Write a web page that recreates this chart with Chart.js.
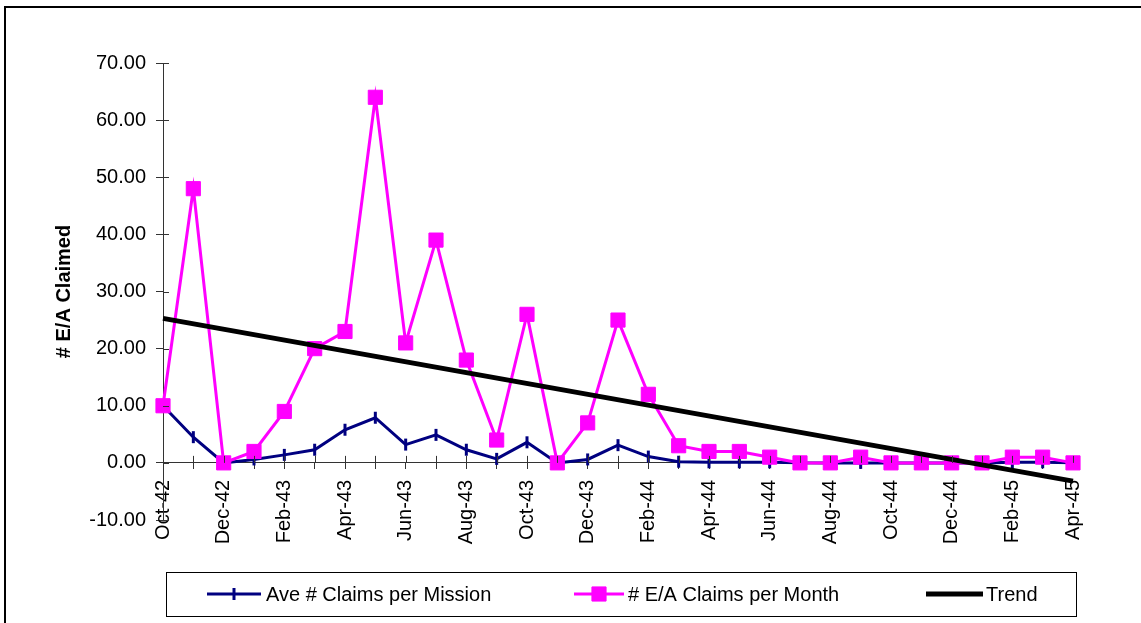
<!DOCTYPE html>
<html>
<head>
<meta charset="utf-8">
<script src="https://cdn.jsdelivr.net/npm/chart.js@4/dist/chart.umd.min.js"></script>
<style>
  body { margin: 0; background: #fff; }
  canvas { display: block; }
</style>
</head>
<body>
<canvas id="claims" width="1141" height="623"></canvas>
<script>
// months Oct-42 .. Apr-45
var meses = ['Oct-42','Nov-42','Dec-42','Jan-43','Feb-43','Mar-43','Apr-43','May-43','Jun-43','Jul-43','Aug-43','Sep-43',
             'Oct-43','Nov-43','Dec-43','Jan-44','Feb-44','Mar-44','Apr-44','May-44','Jun-44','Jul-44','Aug-44','Sep-44',
             'Oct-44','Nov-44','Dec-44','Jan-45','Feb-45','Mar-45','Apr-45'];

var avePorMision = [10, 4.5, 0, 0.6, 1.4, 2.3, 5.8, 7.9, 3.2, 4.9, 2.3, 0.7,
                    3.6, 0, 0.6, 3.1, 1.1, 0.2, 0.1, 0.1, 0.1, 0, 0, 0,
                    0, 0, 0, 0, 0.1, 0.1, 0];

var reclamosMes = [10, 48, 0, 2, 9, 20, 23, 64, 21, 39, 18, 4,
                   26, 0, 7, 25, 12, 3, 2, 2, 1, 0, 0, 1,
                   0, 0, 0, 0, 1, 1, 0];

// trend line end points
var tendencia = [{x: 'Oct-42', y: 25.3}, {x: 'Apr-45', y: -3.2}];

var ticksY = [-10, 0, 10, 20, 30, 40, 50, 60, 70];

var FUENTE = '"Liberation Sans", Arial, sans-serif';
Chart.defaults.font.family = FUENTE;
Chart.defaults.font.size = 20;
Chart.defaults.color = '#000';

// marco exterior
var marco = {
  id: 'marco',
  beforeDraw: function(chart) {
    var ctx = chart.ctx;
    ctx.save();
    ctx.fillStyle = '#000';
    ctx.fillRect(4, 6, 2, 700);
    ctx.fillRect(4, 6, 1200, 2);
    ctx.restore();
  }
};

// ticks que cruzan el eje
var ticksCruzados = {
  id: 'ticksCruzados',
  afterDatasetsDraw: function(chart) {
    var ctx = chart.ctx, x = chart.scales.x, y = chart.scales.y;
    var x0 = y.right, y0 = y.getPixelForValue(0);
    ctx.save();
    ctx.strokeStyle = '#333';
    ctx.lineWidth = 1;
    ctx.beginPath();
    y.ticks.forEach(function(t, i) {
      var p = Math.round(y.getPixelForTick(i)) + 0.5;
      ctx.moveTo(x0, p); ctx.lineTo(x0 + 6, p);
    });
    x.ticks.forEach(function(t, i) {
      var p = Math.round(x.getPixelForTick(i)) + 0.5;
      ctx.moveTo(p, y0); ctx.lineTo(p, y0 - 7);
    });
    ctx.stroke();
    ctx.restore();
  }
};

// leyenda con recuadro
var leyenda = {
  id: 'leyenda',
  afterDraw: function(chart) {
    var ctx = chart.ctx;
    var cy = 594;
    var items = [
      {ds: 0, x1: 207, x2: 261, tx: 266},
      {ds: 1, x1: 574, x2: 624, tx: 628},
      {ds: 2, x1: 926, x2: 983, tx: 986}
    ];
    ctx.save();
    ctx.strokeStyle = '#000';
    ctx.lineWidth = 1;
    ctx.strokeRect(166.5, 572.5, 910, 44);
    items.forEach(function(it) {
      var d = chart.data.datasets[it.ds];
      ctx.strokeStyle = d.borderColor;
      ctx.lineWidth = d.borderWidth;
      ctx.beginPath();
      ctx.moveTo(it.x1, cy); ctx.lineTo(it.x2, cy);
      ctx.stroke();
      if (d.pointRadius > 0) {
        ctx.fillStyle = d.pointBackgroundColor;
        ctx.strokeStyle = d.pointBorderColor;
        ctx.lineWidth = d.pointBorderWidth;
        Chart.helpers.drawPoint(ctx, {
          pointStyle: d.pointStyle, rotation: d.pointRotation || 0,
          radius: d.pointRadius, borderWidth: d.pointBorderWidth
        }, (it.x1 + it.x2) / 2, cy);
      }
      ctx.fillStyle = '#000';
      ctx.font = '20px ' + FUENTE;
      ctx.textBaseline = 'alphabetic';
      ctx.textAlign = 'left';
      ctx.fillText(d.label, it.tx, cy + 7);
    });
    ctx.restore();
  }
};

new Chart(document.getElementById('claims'), {
  type: 'line',
  data: {
    labels: meses,
    datasets: [{
      label: 'Ave # Claims per Mission',
      data: avePorMision,
      borderColor: '#000080',
      borderWidth: 3,
      pointStyle: 'line',
      pointRotation: 90,
      pointRadius: 6,
      pointBorderWidth: 3,
      pointBackgroundColor: '#000080',
      pointBorderColor: '#000080',
      tension: 0,
      order: 2,
      clip: false
    }, {
      label: '# E/A Claims per Month',
      data: reclamosMes,
      borderColor: '#ff00ff',
      borderWidth: 3,
      pointStyle: 'rect',
      pointRadius: 10,
      pointBorderWidth: 1,
      pointBackgroundColor: '#ff00ff',
      pointBorderColor: '#ff00ff',
      tension: 0,
      order: 1,
      clip: false
    }, {
      label: 'Trend',
      data: tendencia,
      borderColor: '#000',
      borderWidth: 5,
      pointRadius: 0,
      order: 0,
      clip: false
    }]
  },
  options: {
    responsive: false,
    animation: false,
    layout: { padding: { left: 52, right: 68, top: 63, bottom: 103 } },
    plugins: { legend: { display: false }, tooltip: { enabled: false } },
    scales: {
      x: {
        type: 'category',
        position: { y: 0 },
        offset: false,
        grid: { drawOnChartArea: false, color: '#333', tickLength: 6 },
        border: { color: '#333', width: 1 },
        ticks: {
          autoSkip: false,
          maxRotation: 90,
          minRotation: 90,
          padding: 11,
          callback: function(v, i) { return i % 2 === 0 ? meses[i] : ''; }
        },
        afterFit: function(s) { s.height = 0; }
      },
      y: {
        min: -10,
        max: 70,
        afterBuildTicks: function(s) { s.ticks = ticksY.map(function(v) { return {value: v}; }); },
        grid: { drawOnChartArea: false, color: '#333', tickLength: 7 },
        border: { color: '#333', width: 1 },
        ticks: {
          padding: 10,
          callback: function(v) { return Number(v).toFixed(2); }
        },
        title: {
          display: true,
          text: '# E/A Claimed',
          font: { size: 20, weight: 'bold' },
          padding: 0
        },
        afterFit: function(s) { s.width = 111; }
      }
    }
  },
  plugins: [marco, ticksCruzados, leyenda]
});
</script>
</body>
</html>
